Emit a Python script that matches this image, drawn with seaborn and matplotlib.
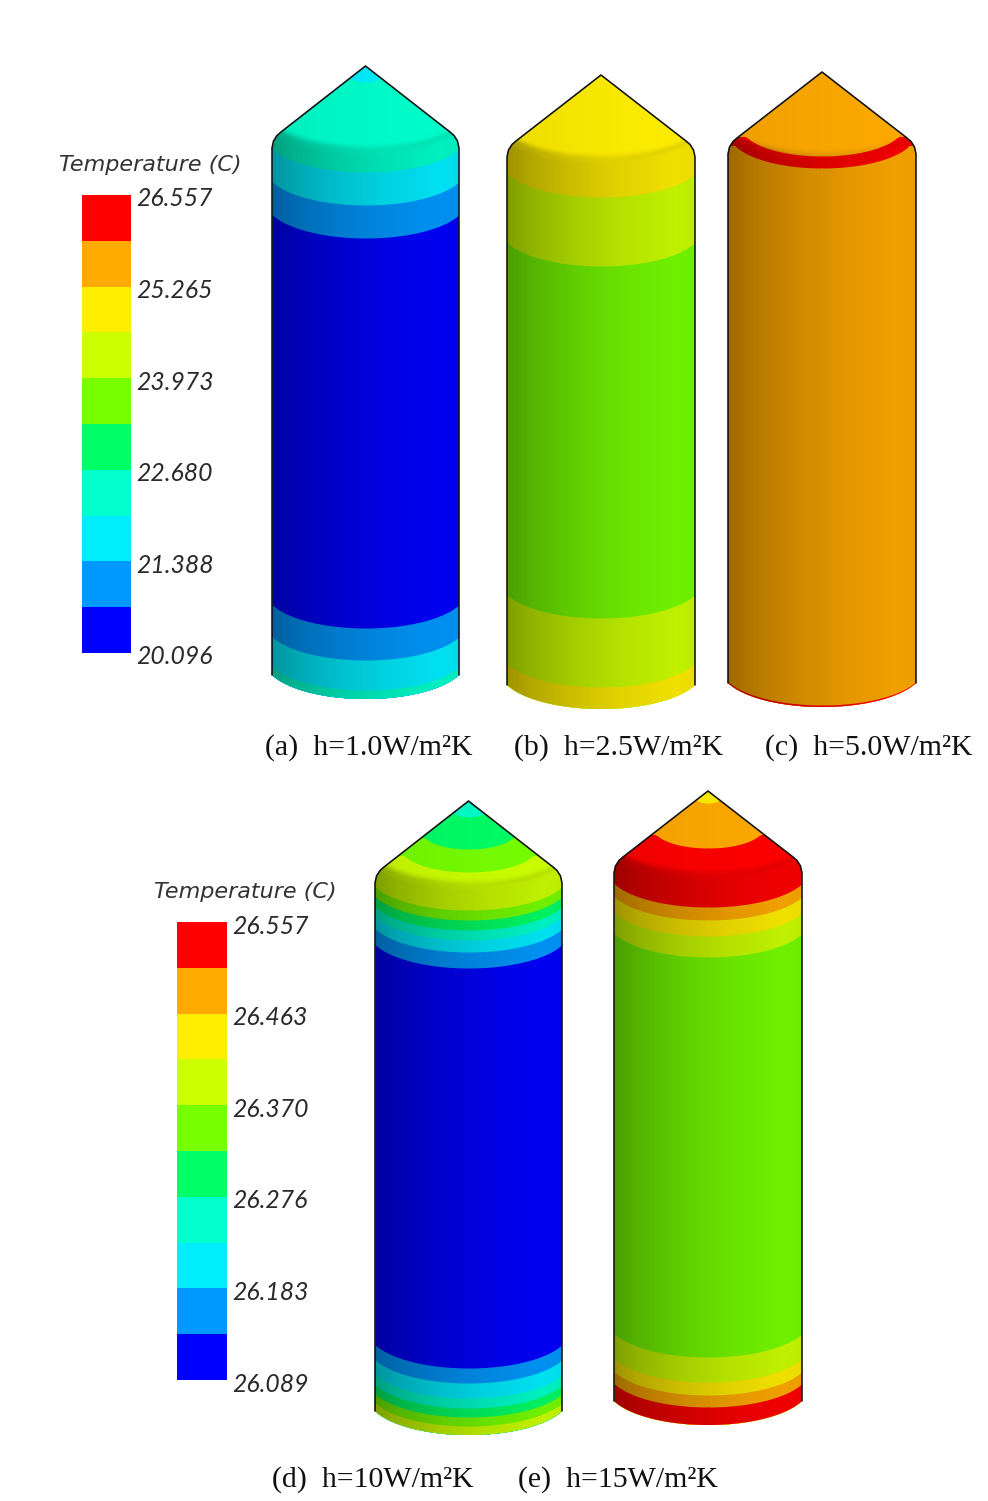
import numpy as np
import matplotlib
matplotlib.use("Agg")
import matplotlib.pyplot as plt
from matplotlib.colors import ListedColormap
from matplotlib.patches import Polygon
from matplotlib.transforms import ScaledTranslation
import seaborn as sns

W, H = 988, 1501

# ---- data -----------------------------------------------------------------
LEVEL_COLORS = ["#ff0000", "#ffaa00", "#ffee00", "#ccff00", "#77ff00",
                "#00ff66", "#00ffcc", "#00eeff", "#0099ff", "#0000ff"]
LEGEND_TITLE = "Temperature (C)"
TICKS_TOP = ["26.557", "25.265", "23.973", "22.680", "21.388", "20.096"]
TICKS_BOTTOM = ["26.557", "26.463", "26.370", "26.276", "26.183", "26.089"]

CAPTIONS = ["(a)  h=1.0W/m²K", "(b)  h=2.5W/m²K", "(c)  h=5.0W/m²K",
            "(d)  h=10W/m²K", "(e)  h=15W/m²K"]

# silhouette of each cylinder in image pixels
CENTERS = [365.5, 601.0, 822.0, 468.5, 708.0]
RADII = [93.5, 94.0, 94.0, 93.5, 94.0]
APEXES = [66, 75, 72, 801, 791]
BOTTOMS = [699, 709, 707, 1435, 1425]

# colour level of each band, and the height (on the axis of the cylinder)
# where the next band starts
A_LEVELS = [7, 6, 7, 8, 9, 8, 7, 6]
A_STARTS = [82, 172, 205, 238, 628, 660, 690]
B_LEVELS = [2, 3, 4, 3, 2]
B_STARTS = [197, 266, 618, 687]
C_LEVELS = [1, 0, 1, 0]
C_STARTS = [156, 168, 705]
D_LEVELS = [6, 5, 4, 3, 4, 5, 6, 7, 8, 9, 8, 7, 6, 5, 4, 3]
D_STARTS = [817, 849, 872, 910, 920, 930, 940, 952, 968, 1368, 1383, 1398, 1408, 1417, 1426]
E_LEVELS = [2, 1, 0, 1, 2, 3, 4, 3, 2, 1, 0]
E_STARTS = [803, 848, 907, 920, 936, 957, 1357, 1382, 1395, 1407]

ALL_LEVELS = [A_LEVELS, B_LEVELS, C_LEVELS, D_LEVELS, E_LEVELS]
ALL_STARTS = [A_STARTS, B_STARTS, C_STARTS, D_STARTS, E_STARTS]

# side shading: darkness across the width
SHADE_U = [-1.0, -0.75, -0.3, 0.2, 0.8, 1.0]
SHADE_A = [0.38, 0.30, 0.20, 0.12, 0.06, 0.08]

# ---- set-up ---------------------------------------------------------------
sns.set_theme(style="white")
plt.rcParams["font.family"] = ["Lato", "DejaVu Sans"]

fig = plt.figure(figsize=(W / 100, H / 100), dpi=100, facecolor="white")
ax = fig.add_axes([0, 0, 1, 1])
ax.set_xlim(0, W)
ax.set_ylim(H, 0)
ax.axis("off")

SAG = 0.25        # ellipse minor/major ratio
SLOPE = 81 / 94   # silhouette slope of the cap
BEND = 0.93       # how close to the tip of the ellipse the arc runs


def arc(t):
    """0 at the axis, 1 at the silhouette; flatter than a full ellipse."""
    t = np.clip(np.abs(t), 0, 1)
    return (1 - np.sqrt(1 - (BEND * t) ** 2)) / (1 - np.sqrt(1 - BEND ** 2))


def boundary(x, cx, R, ya, c):
    """Curve of a band boundary whose axis height is c."""
    r = min(R, max((c - ya) / (SLOPE + SAG), 1.0))
    return c - SAG * r * arc((x - cx) / r)


def draw_cylinder(cx, R, ya, yb, levels, starts):
    shoulder = ya + 82
    edge = yb - 24
    arc_x = np.linspace(cx + R, cx - R, 120)
    arc_y = yb - 24 * arc((arc_x - cx) / R)
    left = [(cx - R, shoulder), (cx - R + 1.5, ya + 75), (cx - R + 5, ya + 69.5),
            (cx - R + 9, ya + 66)]
    right = [(2 * cx - px, py) for px, py in reversed(left)]
    top = left + [(cx, ya)] + right
    verts = top + list(zip(arc_x, arc_y))
    clip = Polygon(verts, closed=True, facecolor="none", edgecolor="none")
    ax.add_patch(clip)

    x = np.linspace(cx - R, cx + R, 400)
    lows = [ya - 5] + list(starts)
    for lev, c in zip(levels, lows):
        y1 = np.full_like(x, ya - 5.0) if c == ya - 5 else boundary(x, cx, R, ya, c)
        poly = ax.fill_between(x, y1, yb + 6, color=LEVEL_COLORS[lev], lw=0, zorder=2)
        poly.set_clip_path(clip)

    # shading overlay
    gx = np.linspace(cx - R, cx + R, 190)
    gy = np.linspace(ya - 2, yb + 2, int(yb - ya + 5))
    XX, YY = np.meshgrid(gx, gy)
    U = (XX - cx) / R
    V = YY + SAG * R * (arc(U) - 1)
    side = np.interp(U, SHADE_U, SHADE_A)
    ramp = np.clip((V - (shoulder - 24 - 8)) / 16, 0.2, 1)
    crease = 0.08 * np.exp(-((V - (shoulder - 22)) / 3.5) ** 2) * (0.4 + 0.6 * np.abs(U))
    alpha = np.clip(side * ramp + crease, 0, 1)
    rgba = np.zeros(alpha.shape + (4,))
    rgba[..., 3] = alpha
    im = ax.imshow(rgba, extent=(cx - R, cx + R, yb + 2, ya - 2), aspect="auto",
                   interpolation="bilinear", zorder=3)
    im.set_clip_path(clip)

    # black silhouette line
    tx, ty = zip(*([(cx - R, edge)] + top + [(cx + R, edge)]))
    ax.plot(tx, ty, color="#101010", lw=1.15, zorder=4, solid_joinstyle="round")


for cx, R, ya, yb, lv, st in zip(CENTERS, RADII, APEXES, BOTTOMS, ALL_LEVELS, ALL_STARTS):
    draw_cylinder(cx, R, ya, yb, lv, st)
ax.set_xlim(0, W)
ax.set_ylim(H, 0)


def legend(x0, y0, x1, y1, labels, title_x, title_y):
    lax = fig.add_axes([x0 / W, 1 - y1 / H, (x1 - x0) / W, (y1 - y0) / H])
    cells = np.arange(len(LEVEL_COLORS)).reshape(-1, 1)
    sns.heatmap(cells, ax=lax, cmap=ListedColormap(LEVEL_COLORS), cbar=False,
                vmin=-0.5, vmax=len(LEVEL_COLORS) - 0.5, xticklabels=False)
    lax.set_yticks(np.arange(0, len(LEVEL_COLORS) + 1, 2))
    lax.set_yticklabels(labels, rotation=0, fontsize=17.8, fontstyle="italic",
                        color="#2a2a2a", fontweight="normal")
    lax.tick_params(axis="y", length=0, left=False, labelleft=False, right=True,
                    labelright=True, pad=4)
    shift = ScaledTranslation(0, -2 / 100, fig.dpi_scale_trans)
    for t in lax.get_yticklabels():
        t.set_transform(t.get_transform() + shift)
    ax.text(title_x, title_y, LEGEND_TITLE, family=["DejaVu Sans"], fontsize=16,
            fontstyle="italic", color="#333333", ha="left", va="center")


legend(82, 195, 131, 653, TICKS_TOP, 59, 165)
legend(177, 922, 227, 1380, TICKS_BOTTOM, 154, 892)

CAP_X = [265, 514, 765, 272, 518]
CAP_Y = [748, 748, 748, 1480, 1480]
for s, px, py in zip(CAPTIONS, CAP_X, CAP_Y):
    ax.text(px, py, s, family=["Liberation Serif", "DejaVu Serif"], fontsize=21.5,
            color="#111111", ha="left", va="center")

fig.savefig("out.png", dpi=100)
